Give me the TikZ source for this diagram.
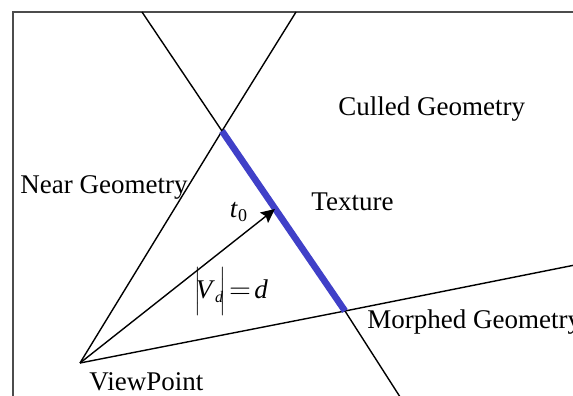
\documentclass[tikz,border=0pt]{standalone}
\usepackage{fontspec}
\setmainfont{Liberation Serif}
\definecolor{TextureBlue}{RGB}{64,64,200}
\usetikzlibrary{arrows.meta}

\begin{document}
\begin{tikzpicture}[x=0.5pt,y=-0.5pt,>=Stealth,
    every node/.style={font=\fontsize{13.5}{15}\selectfont,inner sep=0pt},
    ray/.style={line width=0.7pt},
    texture/.style={line width=3.3pt,TextureBlue}]
      \useasboundingbox (0,0) rectangle (573,396);
      \clip (0,0) rectangle (573,396);
      % frame
      \draw[line width=0.7pt,black!70] (13,400) -- (13,12) -- (580,12);
      % points
      \coordinate (v) at (80,363);
      \coordinate (a) at (222,131);
      \coordinate (b) at (345,311);
      \coordinate (t) at (275,209);
      \coordinate (ntop) at (296,12);
      \coordinate (ctop) at (142,12);
      \coordinate (cbot) at (402,400);
      \coordinate (mend) at (580,264);
      % rays
      \draw[ray] (v) -- (a) -- (ntop);
      \draw[ray] (ctop) -- (a);
      \draw[ray] (b) -- (cbot);
      \draw[ray] (v) -- (b) -- (mend);
      \draw[texture] (a) -- (b);
      \draw[ray,-{Stealth[length=7pt,width=6.5pt,inset=1.2pt]}] (v) -- (t);
      % labels
      \node[anchor=base west] (culled) at (338,115) {Culled Geometry};
      \node[anchor=base west] (near) at (20,193) {Near Geometry};
      \node[anchor=base west] (tex) at (311,210) {Texture};
      \node (tzero) at (239,212) {\textit{t}$_{\mbox{\fontsize{9}{10}\selectfont 0}}$};
      \node (vd) at (231,291) {$\bigg|\!\mbox{\textit{V}}_{\mbox{\fontsize{8}{9}\selectfont\textit{d}}}\!\bigg|\!=\!\mbox{\textit{d}}$};
      \node[anchor=base west] (morph) at (367,328) {Morphed Geometry};
      \node[anchor=base west] (view) at (89,390) {ViewPoint};
    \end{tikzpicture}
\end{document}
